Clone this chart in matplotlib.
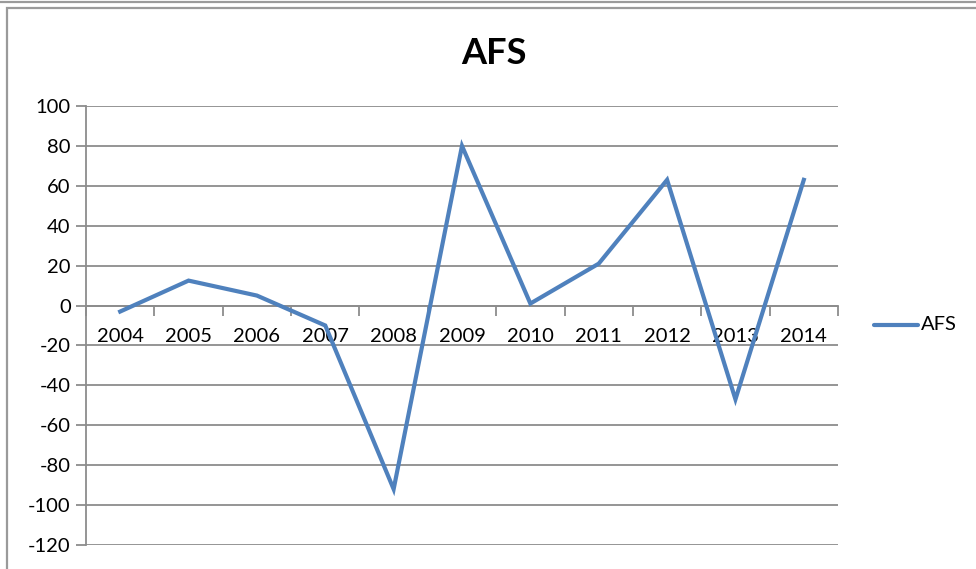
import matplotlib
matplotlib.use("Agg")
import matplotlib.pyplot as plt
from matplotlib.lines import Line2D
from matplotlib.patches import Rectangle

years = ["2004", "2005", "2006", "2007", "2008", "2009", "2010", "2011", "2012", "2013", "2014"]
afs = [-3, 12.5, 5, -10, -92, 80, 1, 21, 63, -47, 63]
y_ticks = [100, 80, 60, 40, 20, 0, -20, -40, -60, -80, -100, -120]

plt.rcParams["font.family"] = ["Lato", "DejaVu Sans"]

W, H = 976, 569
fig = plt.figure(figsize=(W / 100, H / 100), dpi=100)
fig.patch.set_facecolor("white")

grey = "#8c8c8c"
blue = "#4f81bd"

# chart border, cropped by the screenshot
fig.add_artist(Line2D([0, 1], [1 - 2 / H, 1 - 2 / H], transform=fig.transFigure,
                      color="#9a9a9a", lw=1.6))
fig.add_artist(Rectangle((6.5 / W, -0.1), 1.2, 1 - 7.5 / H + 0.1, transform=fig.transFigure,
                         fill=False, edgecolor="#9a9a9a", lw=1.6))

left, right, top, bottom = 86, 838, 106, 545
ax = fig.add_axes([left / W, 1 - bottom / H, (right - left) / W, (bottom - top) / H])
ax.set_facecolor("white")

x = list(range(len(years)))
ax.plot(x, afs, color=blue, lw=3.0, solid_joinstyle="miter", zorder=3)

ax.set_xlim(-0.5, len(years) - 0.5)
ax.set_ylim(-120, 100)
ax.set_yticks(y_ticks)
ax.set_yticklabels([str(v) for v in y_ticks], fontsize=14.5)
ax.yaxis.grid(True, color=grey, lw=1.3)
ax.set_axisbelow(True)

for s in ["top", "right"]:
    ax.spines[s].set_visible(False)
ax.spines["left"].set_color(grey)
ax.spines["left"].set_linewidth(1.3)
ax.spines["bottom"].set_position(("data", 0))
ax.spines["bottom"].set_color(grey)
ax.spines["bottom"].set_linewidth(1.3)

ax.tick_params(axis="y", length=7, width=1.3, color=grey, pad=4, labelcolor="black")

# category boundaries get the tick marks, labels sit at the centres
ax.set_xticks([i - 0.5 for i in range(len(years) + 1)])
ax.set_xticklabels([])
ax.tick_params(axis="x", length=7, width=1.3, color=grey, direction="out")
for i, yr in enumerate(years):
    ax.annotate(yr, xy=(i, 0), xycoords="data", xytext=(0, -22), textcoords="offset points",
                ha="center", va="center", fontsize=14.5, zorder=2, annotation_clip=False)

fig.text(494 / W, 1 - 53 / H, "AFS", ha="center", va="center", fontsize=26, fontweight="bold")

# legend
fig.add_artist(Line2D([874 / W, 918 / W], [1 - 325 / H, 1 - 325 / H], transform=fig.transFigure,
                      color=blue, lw=3.0, solid_capstyle="round"))
fig.text(921 / W, 1 - 325 / H, "AFS", ha="left", va="center", fontsize=14.5)

fig.savefig("out.png", dpi=100)
